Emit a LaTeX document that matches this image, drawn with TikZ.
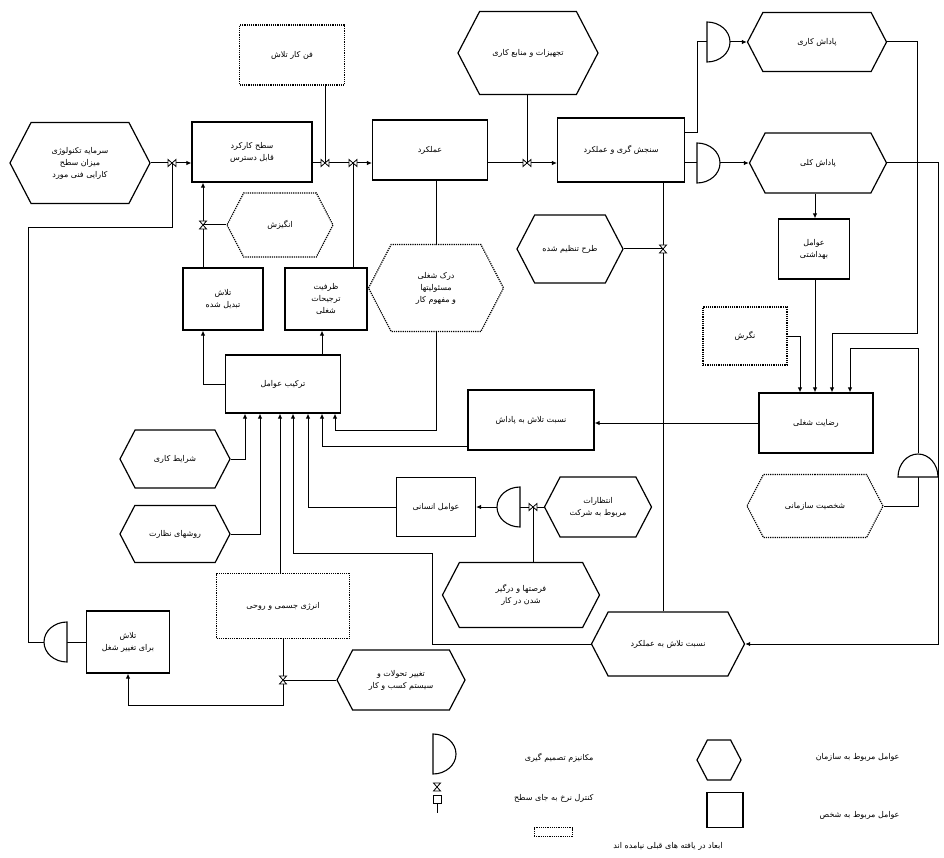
\documentclass[tikz,border=0pt]{standalone}
\usepackage{fontspec}
\newfontfamily\fa[Script=Arabic]{DejaVu Sans}
\TeXXeTstate=1
\usetikzlibrary{shapes.symbols,arrows.meta}
\newcommand{\rl}[1]{\beginR #1\endR}
% valve (rate control) and decision gate
\newcommand{\valve}[2][0]{\draw[line width=0.8pt,fill=white,shift={(#2)},rotate=#1] (-4,-3.5) -- (4,3.5) -- (4,-3.5) -- (-4,3.5) -- cycle;}
\newcommand{\gate}[2][0]{\draw[line width=1.1pt,fill=white,shift={(#2)},rotate=#1] (0,-20) -- (0,20) .. controls (12.7,20) and (23,11) .. (23,0) .. controls (23,-11) and (12.7,-20) .. (0,-20) -- cycle;}
\tikzset{
  box/.style={draw,line width=1.2pt,align=center,inner sep=2pt},
  dbox/.style={box,densely dotted},
  hexa/.style={draw,line width=1.2pt,signal,signal to=east and west,signal pointer angle=125,align=center,inner sep=2pt},
  dhexa/.style={hexa,densely dotted},
  conn/.style={line width=1pt},
  arr/.style={conn,-{Latex[length=5pt,width=4.5pt]}}
}
\begin{document}
\begin{tikzpicture}[x=1pt,y=-1pt,font=\fa\fontsize{8}{12}\selectfont]
\useasboundingbox (0,0) rectangle (944,858);
% person factors
\node[box,minimum width=120pt,minimum height=60pt] (kark) at (252,152) {\rl{سطح کارکرد}\\\rl{قابل دسترس}};
\node[box,minimum width=115pt,minimum height=60pt] (amal) at (430,150) {\rl{عملکرد}};
\node[box,minimum width=127pt,minimum height=64pt] (sanj) at (621,150) {\rl{سنجش گری و عملکرد}};
\node[box,minimum width=80pt,minimum height=62pt] (talash) at (223,299) {\rl{تلاش}\\\rl{تبدیل شده}};
\node[box,minimum width=82pt,minimum height=62pt] (zarf) at (326,299) {\rl{ظرفیت}\\\rl{ترجیحات}\\\rl{شغلی}};
\node[box,minimum width=115pt,minimum height=58pt] (tarkib) at (283,384) {\rl{ترکیب عوامل}};
\node[box,minimum width=126pt,minimum height=60pt] (nesbat) at (531,420) {\rl{نسبت تلاش به پاداش}};
\node[box,minimum width=71pt,minimum height=60pt] (behd) at (814,249) {\rl{عوامل}\\\rl{بهداشتی}};
\node[box,minimum width=114pt,minimum height=60pt] (rez) at (816,423) {\rl{رضایت شغلی}};
\node[box,minimum width=79pt,minimum height=59pt] (ensani) at (436,507) {\rl{عوامل انسانی}};
\node[box,minimum width=83pt,minimum height=62pt] (taghir) at (128,642) {\rl{تلاش}\\\rl{برای تغییر شغل}};
\node[dbox,minimum width=105pt,minimum height=60pt] (fan) at (292,55) {\rl{فن کار تلاش}};
\node[dbox,minimum width=84pt,minimum height=58pt] (negaresh) at (745,336) {\rl{نگرش}};
\node[dbox,minimum width=133pt,minimum height=65pt] (energy) at (283,606) {\rl{انرژی جسمی و روحی}};
% organisation factors
\node[hexa,minimum width=140pt,minimum height=81pt] (sarmaye) at (80,163) {\rl{سرمایه تکنولوژی}\\\rl{میزان سطح}\\\rl{کارایی فنی مورد}};
\node[hexa,minimum width=140pt,minimum height=83pt] (tajhiz) at (528,53) {\rl{تجهیزات و منابع کاری}};
\node[hexa,minimum width=139pt,minimum height=59pt] (padkar) at (817,42) {\rl{پاداش کاری}};
\node[hexa,minimum width=137pt,minimum height=60pt] (padkol) at (818,163) {\rl{پاداش کلی}};
\node[hexa,minimum width=106pt,minimum height=68pt] (tarh) at (570,249) {\rl{طرح تنظیم شده}};
\node[hexa,minimum width=110pt,minimum height=58pt] (sharayet) at (175,459) {\rl{شرایط کاری}};
\node[hexa,minimum width=110pt,minimum height=57pt] (nezarat) at (175,534) {\rl{روشهای نظارت}};
\node[hexa,minimum width=107pt,minimum height=60pt] (entezar) at (598,507) {\rl{انتظارات}\\\rl{مربوط به شرکت}};
\node[hexa,minimum width=157pt,minimum height=65pt] (forsat) at (521,595) {\rl{فرصتها و درگیر}\\\rl{شدن در کار}};
\node[hexa,minimum width=128pt,minimum height=60pt] (tahavol) at (401,680) {\rl{تغییر تحولات و}\\\rl{سیستم کسب و کار}};
\node[hexa,minimum width=153pt,minimum height=64pt] (nesbat2) at (668,644) {\rl{نسبت تلاش به عملکرد}};
\node[dhexa,minimum width=106pt,minimum height=64pt] (angizesh) at (280,225) {\rl{انگیزش}};
\node[dhexa,minimum width=135pt,minimum height=87pt] (dark) at (436,288) {\rl{درک شغلی}\\\rl{مسئولیتها}\\\rl{و مفهوم کار}};
\node[dhexa,minimum width=136pt,minimum height=63pt] (shakh) at (815,506) {\rl{شخصیت سازمانی}};
% valves, gates and inputs
\coordinate (v1) at (172,163);
\coordinate (v2) at (203,225);
\coordinate (v3) at (325,163);
\coordinate (v4) at (353,163);
\coordinate (v5) at (527,163);
\coordinate (v6) at (663,249);
\coordinate (v7) at (533,507);
\coordinate (v8) at (283,680);
\coordinate (g1) at (707,42);
\coordinate (g2) at (697,163);
\coordinate (g3) at (520,507);
\coordinate (g4) at (67,642);
\coordinate (g5) at (918,477);
\foreach \i/\x in {1/245,2/260,3/280,4/293,5/308,6/322,7/335}
  \coordinate (t\i) at (\x,0 |- tarkib.south);
\foreach \i/\x in {1/800,2/815,3/832,4/850}
  \coordinate (r\i) at (\x,0 |- rez.north);
% connectors
\draw[arr] (sarmaye.east) -- (v1 -| kark.west);
\draw[conn] ([xshift=-23pt]g4) -| (28,228) -| (v1);
\draw[conn] (taghir.west |- g4) -- (g4);
\draw[arr] (kark.east |- v3) -- (v3 -| amal.west);
\draw[conn] (fan.south -| v3) -- (v3);
\draw[conn] (zarf.north -| v4) -- (v4);
\draw[arr] (amal.east |- v5) -- (v5 -| sanj.west);
\draw[conn] (tajhiz.south -| v5) -- (v5);
\draw[conn] ([yshift=17pt]sanj.east) -| ([xshift=-10pt]g1) -- (g1);
\draw[arr] ([xshift=23pt]g1) -- (padkar.west);
\draw[conn] (sanj.east |- g2) -- (g2);
\draw[arr] ([xshift=23pt]g2) -- (padkol.west);
\draw[arr] (padkar.east) -| (917,333) -| (r3);
\draw[arr] (padkol.east) -| (938,644) -- (nesbat2.east);
\draw[arr] (r2 |- padkol.south) -- (r2 |- behd.north);
\draw[arr] (r2 |- behd.south) -- (r2);
\draw[arr] (negaresh.east) -| (r1);
\draw[conn] (shakh.east) -| (g5);
\draw[arr] ([yshift=24pt]g5) |- (850,348) -- (r4);
\draw[arr] (rez.west) -- (rez.west -| nesbat.east);
\draw[conn] (sanj.south -| v6) -- (v6 |- nesbat2.north);
\draw[conn] (tarh.east) -- (v6);
\draw[arr] (talash.north -| v2) -- (kark.south -| v2);
\draw[conn] (angizesh.west) -- (v2);
\draw[arr] (tarkib.west) -| (talash.south -| v2);
\draw[arr] (t6 |- tarkib.north) -- (t6 |- zarf.south);
\draw[conn] (dark.north |- amal.south) -- (dark.north);
\draw[arr] (sharayet.east) -| (t1);
\draw[arr] (nezarat.east) -| (t2);
\draw[arr] (energy.north -| t3) -- (t3);
\draw[arr] (nesbat2.west) -| (432,553) -| (t4);
\draw[arr] (ensani.west) -| (t5);
\draw[arr] ([yshift=-26pt]nesbat.west) -| (t6);
\draw[arr] (dark.south) |- (335,430) -- (t7);
\draw[arr] ([xshift=-23pt]g3) -- (g3 -| ensani.east);
\draw[conn] (entezar.west) -- (g3);
\draw[conn] (forsat.north -| v7) -- (v7);
\draw[arr] (energy.south -| v8) -- (283,705) -| (taghir.south);
\draw[conn] (tahavol.west) -- (v8);
\gate{g1} \gate{g2} \gate[180]{g3} \gate[180]{g4} \gate[90]{g5}
\valve{v1} \valve[90]{v2} \valve{v3} \valve{v4} \valve{v5}
\valve[90]{v6} \valve{v7} \valve[90]{v8}
% legend
\coordinate (lg) at (433,754);
\coordinate (lv) at (437,787);
\gate{lg}
\valve[90]{lv}
\draw[line width=0.8pt] (433,795) rectangle (441,803) (437,803) -- (437,813);
\node[anchor=east] (lt1) at (597,758) {\rl{مکانیزم تصمیم گیری}};
\node[anchor=east] (lt2) at (597,798) {\rl{کنترل نرخ به جای سطح}};
\node[hexa,minimum width=44pt,minimum height=40pt] (lhex) at (719,760) {};
\node[box,minimum width=36pt,minimum height=35pt] (lbox) at (725,810) {};
\node[anchor=east] (lt3) at (903,757) {\rl{عوامل مربوط به سازمان}};
\node[anchor=east] (lt4) at (903,815) {\rl{عوامل مربوط به شخص}};
\node[dbox,line width=0.8pt,minimum width=38pt,minimum height=9pt,inner sep=0pt] (ldot) at (553,832) {};
\node (lt5) at (668,846) {\rl{ابعاد در یافته های قبلی نیامده اند}};
\end{tikzpicture}
\end{document}
